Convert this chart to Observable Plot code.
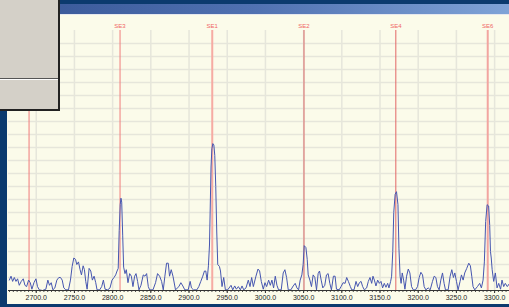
<!DOCTYPE html>
<html><head><meta charset="utf-8">
<script src="https://cdn.jsdelivr.net/npm/d3@7"></script>
<script src="https://cdn.jsdelivr.net/npm/@observablehq/plot@0.6"></script>
<style>
html,body{margin:0;padding:0;background:#fbfbea;overflow:hidden}
#wrap{position:relative;width:509px;height:307px;overflow:hidden;background:#fbfbea}
#chart{position:absolute;left:0;top:0}
.navtop{position:absolute;left:0;top:0;width:509px;height:4px;background:#0b3a6e}
.bar{position:absolute;left:0;top:4px;width:509px;height:10px;background:linear-gradient(to right,#365595,#5071b1 50%,#7fa3d7)}
.barline{position:absolute;left:0;top:14px;width:509px;height:1px;background:#e6e8ee}
.left{position:absolute;left:0;top:0;width:7px;height:307px;background:#0b3a6e}
.bottom{position:absolute;left:0;top:304px;width:509px;height:3px;background:#0b3a6e}
.dlg{position:absolute;left:0;top:0;width:58px;height:109px;background:#d4d0c8;border-right:2px solid #222;border-bottom:2px solid #222}
.sep1{position:absolute;left:0;top:78px;width:58px;height:1px;background:#555}
.sep2{position:absolute;left:0;top:79px;width:58px;height:1px;background:#fdfdfd}
</style>
</head><body>
<div id="wrap">
  <div id="chart"></div>
  <div class="navtop"></div>
  <div class="bar"></div>
  <div class="barline"></div>
  <div class="left"></div>
  <div class="bottom"></div>
  <div class="dlg"></div>
  <div class="sep1"></div>
  <div class="sep2"></div>
</div>
<script>
// ---- data ----
const spectrumMz = [
2664.8,2667.0,2669.1,2671.3,2673.5,2675.6,2677.8,2680.4,2683.0,2685.2,2687.4,2690.0,2692.2,2694.3,2697.0,2699.6,
2701.7,2704.0,2708.3,2712.6,2715.2,2717.4,2719.6,2721.8,2724.4,2727.0,2729.6,2731.8,2734.0,2736.1,2738.7,2742.2,
2744.8,2747.0,2749.2,2751.4,2753.1,2755.3,2757.4,2759.2,2761.4,2763.1,2764.8,2766.6,2769.2,2771.4,2773.5,2775.7,
2777.9,2779.6,2783.1,2785.7,2787.9,2790.1,2793.6,2796.6,2799.2,2801.8,2804.0,2805.8,2807.3,2808.6,2809.9,2810.9,
2811.9,2813.2,2814.4,2816.2,2817.9,2820.1,2822.3,2824.5,2826.6,2828.8,2830.6,2832.7,2834.5,2837.1,2840.1,2842.3,
2844.5,2846.7,2848.4,2852.8,2856.2,2858.8,2861.5,2864.1,2866.3,2868.4,2870.6,2872.8,2874.5,2876.7,2879.0,2882.3,
2886.7,2889.3,2891.9,2894.5,2898.9,2901.5,2903.2,2905.8,2910.2,2912.8,2915.4,2918.0,2920.2,2921.9,2923.7,2925.4,
2926.8,2927.8,2928.8,2929.9,2931.2,2932.5,2933.7,2935.0,2936.3,2937.6,2939.8,2941.2,2943.2,2945.4,2947.6,2950.6,
2955.0,2957.2,2959.8,2962.0,2964.6,2967.2,2969.4,2971.6,2974.6,2977.6,2979.8,2982.0,2984.2,2987.6,2990.3,2992.4,
2994.6,2997.2,2999.4,3001.6,3004.2,3006.4,3008.5,3010.7,3012.9,3015.1,3017.2,3020.7,3023.3,3025.5,3027.7,3029.9,
3033.3,3036.4,3039.0,3041.2,3043.4,3045.5,3047.7,3049.4,3050.8,3053.0,3054.7,3056.0,3058.2,3060.3,3062.5,3064.7,
3066.9,3069.0,3070.8,3073.0,3075.1,3077.7,3079.9,3082.1,3084.3,3086.4,3089.0,3091.2,3093.0,3096.5,3099.0,3101.7,
3104.3,3106.4,3108.6,3111.2,3113.0,3116.0,3118.6,3120.8,3123.0,3125.2,3127.3,3129.5,3132.5,3134.7,3136.9,3139.1,
3140.8,3142.6,3144.7,3146.9,3149.1,3151.3,3153.4,3155.6,3157.8,3160.0,3161.7,3163.9,3165.2,3166.7,3168.0,3169.8,
3171.6,3173.5,3174.8,3176.3,3177.6,3179.1,3180.9,3182.6,3184.8,3187.0,3189.1,3191.3,3193.5,3196.5,3199.1,3201.3,
3203.5,3205.7,3207.8,3210.0,3213.1,3215.7,3218.7,3220.9,3223.1,3225.2,3227.4,3229.6,3231.8,3233.9,3235.7,3239.2,
3241.8,3244.0,3246.1,3247.9,3250.1,3252.2,3254.8,3256.6,3258.8,3260.9,3263.5,3266.2,3268.3,3270.1,3271.8,3274.0,
3277.5,3280.5,3282.7,3284.9,3286.6,3288.3,3290.2,3292.2,3293.6,3294.6,3295.6,3296.8,3298.8,3301.0,3303.2,3305.4,
3307.8,3309.7,3311.9,3314.0,3316.6,3319.0
];
const spectrumIntensity = [
0.8,1.1,0.7,1.0,0.7,0.9,0.4,0.7,0.9,0.4,0.3,0.8,0.6,0.1,0.6,0.9,
0.3,0.05,0.0,0.1,0.8,0.4,0.6,0.05,0.2,0.8,1.0,1.0,0.8,0.2,0.05,0.05,
0.8,1.85,2.5,2.4,2.0,2.2,1.6,1.2,1.9,1.6,0.7,0.1,1.7,1.5,0.8,1.1,
0.6,0.05,0.05,0.3,0.8,0.1,0.05,0.2,0.8,1.0,1.2,1.5,1.7,4.6,6.6,7.1,
6.8,4.2,1.8,1.3,1.6,0.6,1.3,1.1,0.3,1.1,1.3,0.7,0.05,0.4,1.2,1.1,
1.3,0.3,0.05,0.05,0.6,1.3,1.1,0.7,0.05,1.1,2.1,2.1,1.1,1.6,1.1,0.05,
0.3,0.6,0.35,0.05,0.05,0.7,0.2,0.05,0.05,0.3,0.7,1.1,1.5,1.5,0.8,1.9,
3.5,6.5,9.5,10.9,11.3,11.2,10.4,8.0,4.5,2.0,1.85,1.5,0.3,1.0,0.05,0.05,
0.4,0.05,0.35,0.1,0.3,0.05,0.35,0.05,0.2,0.8,0.3,1.0,0.3,1.1,1.65,1.5,
0.7,0.1,0.6,0.3,0.8,0.4,0.8,0.2,1.1,0.4,0.05,0.05,1.35,1.6,1.0,0.05,
0.05,0.35,0.55,0.2,0.05,0.8,1.2,2.0,3.45,3.3,2.4,1.2,0.8,0.3,1.2,1.0,
0.05,1.3,1.5,0.8,0.2,0.4,1.2,1.3,0.55,0.05,1.1,1.1,0.1,0.05,0.3,0.6,
0.55,1.0,0.7,0.3,0.05,0.05,0.7,0.3,0.6,0.7,0.3,0.05,0.2,0.7,1.0,0.55,
1.1,0.8,0.35,0.8,0.55,0.7,0.2,0.55,0.25,0.55,0.2,0.7,1.1,3.0,6.0,7.4,
7.6,6.6,3.2,1.1,0.55,1.35,0.8,0.1,1.1,1.65,1.35,0.3,0.05,0.05,0.3,1.0,
1.4,1.2,0.3,0.05,0.2,0.05,0.7,1.1,1.0,0.3,0.05,0.8,1.35,0.55,0.05,0.05,
1.1,1.6,1.0,1.35,0.7,0.05,0.7,1.2,0.8,1.35,1.7,2.1,1.9,1.1,0.3,0.05,
0.3,0.55,0.2,0.8,2.2,5.3,6.6,6.5,5.0,3.0,2.5,1.6,0.7,1.35,0.2,0.55,
0.1,0.8,0.3,0.55,0.3,0.5
];
const markerNames = ["", "SE3", "SE1", "SE2", "SE4", "SE6"];
const markerMz = [2690.6, 2809.7, 2930.4, 3050.5, 3170.7, 3291.0];
const xTickValues = [2700, 2750, 2800, 2850, 2900, 2950, 3000, 3050, 3100, 3150, 3200, 3250, 3300];
const yGridValues = [1,2,3,4,5,6,7,8,9,10,11,12,13,14,15,16,17,18,19];

// ---- styles (not data) ----
const markerStroke = {"": "#f07a7a", SE3: "#f07c7c", SE1: "#f6aba3", SE2: "#d86868", SE4: "#e26666", SE6: "#f2a5a0"};
const markerWidth = {SE1: 2, SE6: 2};

const spectrum = spectrumMz.map((mz, i) => ({mz, intensity: spectrumIntensity[i]}));
const markers = markerNames.map((name, i) => ({name, mz: markerMz[i]}));
const minorTicks = d3.range(2665, 3320, 5);

const chart = Plot.plot({
  width: 509,
  height: 307,
  marginLeft: 8,
  marginRight: 0,
  marginTop: 30,
  marginBottom: 17,
  style: {background: "#fbfbea", fontFamily: "Liberation Sans, Arial, sans-serif", fontSize: "7px", color: "#262626", overflow: "visible"},
  x: {domain: [2663.7, 3319.5], ticks: xTickValues, tickFormat: d => d.toFixed(1), tickSize: 3, tickPadding: 2, label: null},
  y: {domain: [0, 20], axis: null},
  marks: [
    Plot.ruleY(yGridValues, {stroke: "#e6e6db", strokeWidth: 1.5}),
    Plot.ruleX(xTickValues, {stroke: "#e6e6db", strokeWidth: 1.5}),
    Plot.ruleX(markers, {x: "mz", y1: 0, y2: 20, stroke: d => markerStroke[d.name], strokeWidth: d => markerWidth[d.name] || 1}),
    Plot.line(spectrum, {x: "mz", y: "intensity", stroke: "#4656b0", strokeWidth: 1}),
    Plot.text(markers.filter(d => d.name), {x: "mz", y: 20, text: "name", dy: -4, fill: "#f06666", fontSize: 6}),
    Plot.ruleX(minorTicks, {x: d => d, y1: 0, y2: -0.15, stroke: "#444"}),
    Plot.ruleY([0], {stroke: "#333"})
  ]
});
document.getElementById("chart").appendChild(chart);
</script>
</body></html>
